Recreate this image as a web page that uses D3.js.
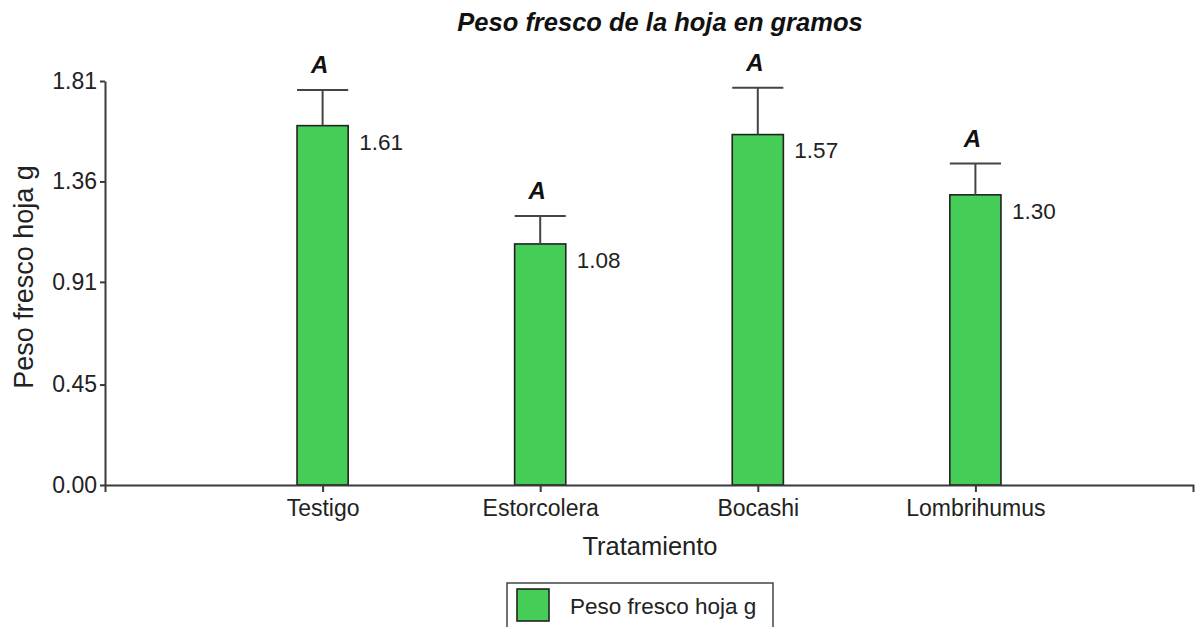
<!DOCTYPE html>
<html>
<head>
<meta charset="utf-8">
<script src="https://cdn.jsdelivr.net/npm/d3@7"></script>
<style>
  html, body { margin: 0; padding: 0; background: #fff; }
  svg { display: block; font-family: "Liberation Sans", Arial, sans-serif; }
</style>
</head>
<body>
<svg id="chart" width="1196" height="627"></svg>
<script>
const categories = ["Testigo", "Estorcolera", "Bocashi", "Lombrihumus"];
const means = [1.61, 1.08, 1.57, 1.30];
const errors = [0.16, 0.125, 0.21, 0.14];
const letters = ["A", "A", "A", "A"];
const valueLabels = ["1.61", "1.08", "1.57", "1.30"];
const yTicks = [0, 0.45, 0.91, 1.36, 1.81];
const yTickLabels = ["0.00", "0.45", "0.91", "1.36", "1.81"];
const title = "Peso fresco de la hoja en gramos";
const xTitle = "Tratamiento";
const yTitle = "Peso fresco hoja g";
const legendLabel = "Peso fresco hoja g";

(function () {
const svg = d3.select("#chart");
const mL = 105, mR = 1193, mT = 81, mB = 485;
const barFill = "#46cd57", barStroke = "#222", axisColor = "#3a3a3a";

const x = d3.scalePoint().domain(categories).range([mL, mR]).padding(1);
const y = d3.scaleLinear().domain([0, 1.81]).range([mB, mT]);
const barW = x.step() * 0.235;

// title
svg.append("text").attr("x", 660).attr("y", 31).attr("text-anchor", "middle")
  .attr("font-size", 25.5).attr("font-weight", "bold").attr("font-style", "italic")
  .attr("fill", "#111").text(title);

const data = categories.map((c, i) => ({c, m: means[i], e: errors[i], l: letters[i], v: valueLabels[i]}));

const g = svg.append("g");
g.selectAll("rect.bar").data(data).join("rect").attr("class", "bar")
  .attr("x", d => x(d.c) - barW / 2).attr("width", barW)
  .attr("y", d => y(d.m)).attr("height", d => y(0) - y(d.m))
  .attr("fill", barFill).attr("stroke", barStroke).attr("stroke-width", 1.6);

// error bars
g.selectAll("line.err").data(data).join("line").attr("class", "err")
  .attr("x1", d => x(d.c)).attr("x2", d => x(d.c))
  .attr("y1", d => y(d.m)).attr("y2", d => y(d.m + d.e))
  .attr("stroke", "#444").attr("stroke-width", 2);
g.selectAll("line.cap").data(data).join("line").attr("class", "cap")
  .attr("x1", d => x(d.c) - barW / 2).attr("x2", d => x(d.c) + barW / 2)
  .attr("y1", d => y(d.m + d.e)).attr("y2", d => y(d.m + d.e))
  .attr("stroke", "#444").attr("stroke-width", 2);

// letters
g.selectAll("text.letter").data(data).join("text").attr("class", "letter")
  .attr("x", d => x(d.c) - 3).attr("y", d => y(d.m + d.e) - 17)
  .attr("text-anchor", "middle").attr("font-size", 24)
  .attr("font-weight", "bold").attr("font-style", "italic").attr("fill", "#111")
  .text(d => d.l);

// value labels
g.selectAll("text.val").data(data).join("text").attr("class", "val")
  .attr("x", d => x(d.c) + barW / 2 + 11).attr("y", d => y(d.m) + 16)
  .attr("dy", "0.35em").attr("font-size", 22.5).attr("fill", "#222")
  .text(d => d.v);

// axes
const yAxis = d3.axisLeft(y).tickValues(yTicks)
  .tickFormat((d, i) => yTickLabels[i]).tickSize(5).tickSizeOuter(0).tickPadding(3);
const ya = svg.append("g").attr("transform", `translate(${mL},0)`).call(yAxis);
ya.selectAll("text").attr("font-size", 23).attr("fill", "#222").attr("font-family", "Liberation Sans, Arial");
ya.selectAll("line,path").attr("stroke", axisColor).attr("stroke-width", 2);

const xAxis = d3.axisBottom(x).tickSize(7).tickSizeOuter(7).tickPadding(8);
const xa = svg.append("g").attr("transform", `translate(0,${mB})`).call(xAxis);
xa.selectAll("text").attr("font-size", 23).attr("fill", "#222").attr("font-family", "Liberation Sans, Arial");
xa.selectAll("line,path").attr("stroke", axisColor).attr("stroke-width", 2);

// axis titles
svg.append("text").attr("x", 650).attr("y", 555).attr("text-anchor", "middle")
  .attr("font-size", 25.5).attr("fill", "#222").text(xTitle);
svg.append("text").attr("transform", `translate(33,${(mT + mB) / 2 - 6}) rotate(-90)`)
  .attr("text-anchor", "middle").attr("font-size", 27).attr("fill", "#222").text(yTitle);

// legend
const lg = svg.append("g");
lg.append("rect").attr("x", 507).attr("y", 583).attr("width", 266).attr("height", 60)
  .attr("fill", "#fff").attr("stroke", "#444").attr("stroke-width", 1.5);
lg.append("rect").attr("x", 517).attr("y", 589).attr("width", 32).attr("height", 32)
  .attr("fill", barFill).attr("stroke", barStroke).attr("stroke-width", 1.6);
lg.append("text").attr("x", 570).attr("y", 614).attr("font-size", 22.5)
  .attr("fill", "#222").text(legendLabel);
})();
</script>
</body>
</html>
